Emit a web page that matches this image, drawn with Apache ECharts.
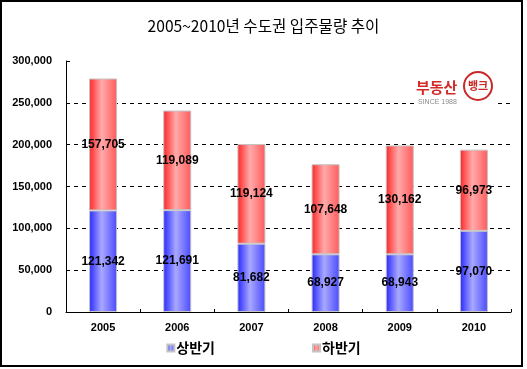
<!DOCTYPE html>
<html><head><meta charset="utf-8">
<script src="https://cdn.jsdelivr.net/npm/echarts@6/dist/echarts.min.js"></script>
<style>html,body{margin:0;padding:0;background:#fff}#c{width:527px;height:369px}</style>
</head><body><div id="c"></div>
<script>
const titleText = '2005~2010년 수도권 입주물량 추이';
const categories = ['2005','2006','2007','2008','2009','2010'];
const seriesNames = ['상반기','하반기'];
const firstHalf = [121342,121691,81682,68927,68943,97070];
const secondHalf = [157705,119089,119124,107648,130162,96973];
const yTicks = {min:0, max:300000, interval:50000};

const fmt = v => v.toLocaleString('en-US');
const grad = (a,b,c) => new echarts.graphic.LinearGradient(0,0,1,0,[
  {offset:0,color:a},{offset:0.45,color:b},{offset:1,color:c}]);
const labelStyle = {show:true, position:'inside', color:'#000', fontFamily:'Liberation Sans, Arial', fontWeight:'bold', fontSize:12,
  formatter: p => fmt(p.value)};

const chart = echarts.init(document.getElementById('c'));
chart.setOption({
  animation:false,
  title:{text:titleText, left:'center', top:13, textStyle:{fontFamily:'Noto Sans CJK KR', fontWeight:'normal', fontSize:15.6, color:'#000'}},
  grid:{left:66, right:16, top:61, bottom:57, containLabel:false},
  legend:{bottom:9, left:'center', itemGap:97, itemWidth:7, itemHeight:7, icon:'rect',
    textStyle:{fontFamily:'Noto Sans CJK KR', fontWeight:'bold', fontSize:14, color:'#000', padding:[0,0,0,-3]},
    data:seriesNames},
  xAxis:{type:'category', data:categories,
    axisLine:{lineStyle:{color:'#000', width:1}},
    axisTick:{show:true, inside:true, length:3, lineStyle:{color:'#000'}},
    axisLabel:{color:'#000', fontFamily:'Liberation Sans, Arial', fontWeight:'bold', fontSize:11, margin:10}},
  yAxis:{type:'value', min:yTicks.min, max:yTicks.max, interval:yTicks.interval,
    axisLine:{show:true, lineStyle:{color:'#000'}},
    axisTick:{show:true, inside:true, length:4, lineStyle:{color:'#000'}},
    axisLabel:{color:'#000', fontFamily:'Liberation Sans, Arial', fontWeight:'bold', fontSize:11, margin:14,
      formatter: v => fmt(v)},
    splitLine:{show:true, lineStyle:{type:[4,4], width:1,
      color:['#000','#000','#000','#000','#000','#000','rgba(0,0,0,0)']}}},
  series:[
    {name:seriesNames[0], type:'bar', stack:'s', data:firstHalf, barWidth:28,
     itemStyle:{color:grad('#2727ff','#a8a8ff','#4a4aff'), borderColor:'#c4c4c4', borderWidth:1},
     label:labelStyle},
    {name:seriesNames[1], type:'bar', stack:'s', data:secondHalf, barWidth:28,
     itemStyle:{color:grad('#ff2424','#ffaaaa','#ff5a5a'), borderColor:'#c4c4c4', borderWidth:1},
     label:labelStyle}
  ],
  graphic:[
    {type:'rect', shape:{x:1, y:1, width:521, height:365}, style:{fill:'none', stroke:'#000', lineWidth:2}, silent:true, z:100},
    {type:'rect', shape:{x:414, y:70, width:82, height:38}, style:{fill:'#fff'}, z:50},
    {type:'text', x:416, y:80, style:{text:'부동산', fill:'#d42a2a', font:'bold 15px "Noto Sans CJK KR"'}, z:51},
    {type:'circle', shape:{cx:478, cy:86, r:14}, style:{fill:'#fff', stroke:'#c82828', lineWidth:2}, z:51},
    {type:'text', x:478, y:86, style:{text:'뱅크', fill:'#c82828', font:'bold 11px "Noto Sans CJK KR"', align:'center', verticalAlign:'middle'}, z:52},
    {type:'text', x:418, y:99, style:{text:'SINCE 1988', fill:'#8a8a8a', font:'7px "Liberation Sans Narrow", Arial'}, z:51}
  ]
});
</script></body></html>
